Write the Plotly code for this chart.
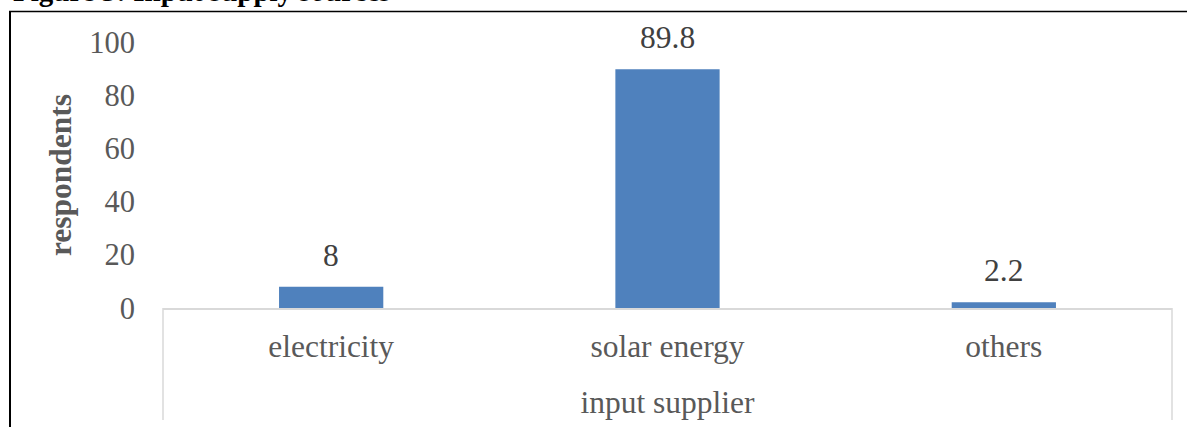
import plotly.graph_objects as go

# Input supply sources reported by respondents (%)
categories = ["electricity", "solar energy", "others"]
values = [8, 89.8, 2.2]
y_ticks = [0, 20, 40, 60, 80, 100]

W, H = 1187, 427
ML, MR, MT, MB = 163, 15, 42, 119
PW, PH = W - ML - MR, H - MT - MB

def px_x(px):
    return (px - ML) / PW

def px_y(py):
    return (H - MB - py) / PH

FONT = "Liberation Serif, Times New Roman, serif"
BAR = "#4F81BD"
TICK = "#595959"

fig = go.Figure(
    go.Bar(
        x=categories,
        y=values,
        width=0.31,
        marker=dict(color=BAR, line=dict(width=0)),
        hoverinfo="skip",
    )
)

annotations = []
for c, v in zip(categories, values):
    annotations.append(dict(
        x=c, y=v, xref="x", yref="y", text=f"{v:g}",
        showarrow=False, yanchor="bottom", yshift=12,
        font=dict(family=FONT, size=31.5, color="#404040"),
    ))

# figure caption, partly above the page edge
annotations.append(dict(
    x=px_x(11), y=px_y(9), xref="paper", yref="paper",
    xanchor="left", yanchor="bottom", showarrow=False,
    text="<b>Figure 3: Input supply sources</b>",
    font=dict(family=FONT, size=29, color="#000000"),
))

shapes = [
    # frame around the chart
    dict(type="line", xref="paper", yref="paper",
         x0=px_x(10), x1=px_x(10), y0=px_y(11), y1=px_y(430),
         line=dict(color="black", width=2)),
    dict(type="line", xref="paper", yref="paper",
         x0=px_x(9), x1=px_x(1190), y0=px_y(11.5), y1=px_y(11.5),
         line=dict(color="black", width=1.5)),
    # category axis side borders
    dict(type="line", xref="paper", yref="paper",
         x0=0, x1=0, y0=0, y1=px_y(420),
         line=dict(color="#D9D9D9", width=1.5)),
    dict(type="line", xref="paper", yref="paper",
         x0=1, x1=1, y0=0, y1=px_y(420),
         line=dict(color="#D9D9D9", width=1.5)),
]

fig.update_layout(
    width=W, height=H,
    margin=dict(l=ML, r=MR, t=MT, b=MB, pad=0, autoexpand=False),
    paper_bgcolor="white", plot_bgcolor="white",
    showlegend=False,
    font=dict(family=FONT, color=TICK, size=31),
    annotations=annotations,
    shapes=shapes,
    xaxis=dict(
        automargin=False,
        showline=True, linecolor="#D9D9D9", linewidth=1.5,
        showgrid=False, ticks="", ticklabelstandoff=9,
        tickfont=dict(family=FONT, size=31.5, color=TICK),
        title=dict(text="input supplier", standoff=28,
                   font=dict(family=FONT, size=31.5, color=TICK)),
        range=[-0.5, 2.5], fixedrange=True,
    ),
    yaxis=dict(
        automargin=False,
        range=[0, 100], tickvals=y_ticks, showgrid=False,
        showline=False, zeroline=False, ticks="",
        ticklabelstandoff=27,
        tickfont=dict(family=FONT, size=30.5, color=TICK),
        title=dict(text="<b>respondents</b>", standoff=8,
                   font=dict(family=FONT, size=31.5, color=TICK)),
        fixedrange=True,
    ),
)

fig.write_html("out.html")
